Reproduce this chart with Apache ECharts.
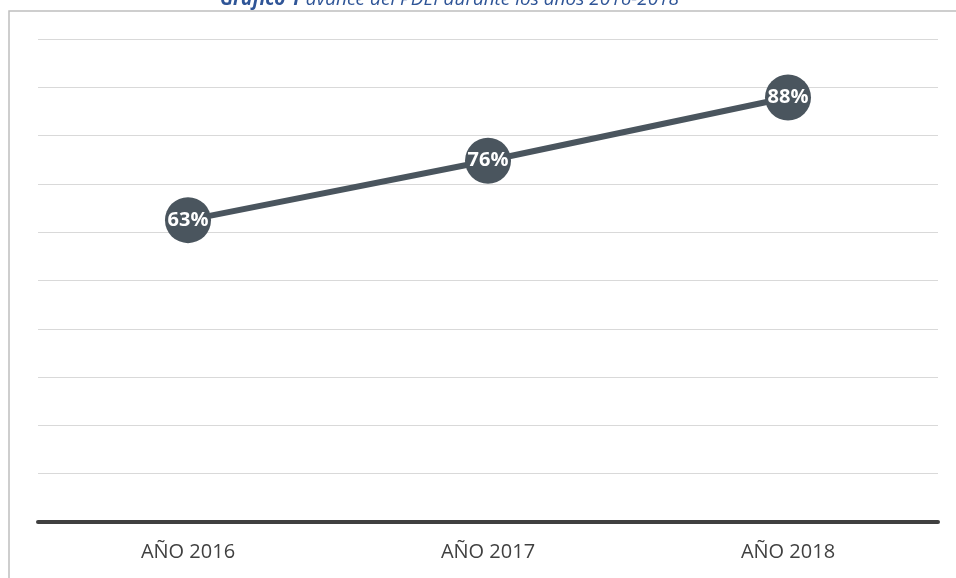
<!DOCTYPE html>
<html>
<head>
<meta charset="utf-8">
<script src="https://cdn.jsdelivr.net/npm/echarts@6/dist/echarts.min.js"></script>
<style>
html,body{margin:0;padding:0;background:#fff;}
#c{width:956px;height:578px;}
</style>
</head>
<body>
<div id="c"></div>
<script>
const categories = ["AÑO 2016", "AÑO 2017", "AÑO 2018"];
const values = [0.625, 0.748, 0.879];
const valueLabels = ["63%", "76%", "88%"];
const titleBold = "Gráfico 1";
const titleRest = " avance del PDEI durante los años 2016-2018";

const chart = echarts.init(document.getElementById('c'));
chart.setOption({
  animation: false,
  backgroundColor: '#fff',
  graphic: [
    {
      type: 'rect', z: 0, silent: true,
      shape: { x: 9, y: 11, width: 1000, height: 700 },
      style: { fill: 'transparent', stroke: '#bfbfbf', lineWidth: 1.5 }
    },
    {
      type: 'text', z: 10, left: 220, top: -10,
      style: {
        rich: {
          b: { fontFamily: 'Open Sans', fontStyle: 'italic', fontWeight: 'bold', fontSize: 19, fill: '#2f5597' },
          r: { fontFamily: 'Open Sans', fontStyle: 'italic', fontSize: 19, fill: '#2f5597' }
        },
        text: '{b|' + titleBold + '}{r|' + titleRest + '}'
      }
    }
  ],
  grid: { left: 38, right: 18, top: 39, bottom: 56 },
  xAxis: {
    type: 'category',
    data: categories,
    boundaryGap: true,
    axisLine: { lineStyle: { color: '#404040', width: 4 } },
    axisTick: { show: false },
    axisLabel: { color: '#404040', fontSize: 20, fontFamily: 'Open Sans', margin: 20 }
  },
  yAxis: {
    type: 'value', min: 0, max: 1, interval: 0.1,
    axisLine: { show: false },
    axisTick: { show: false },
    axisLabel: { show: false },
    splitLine: { lineStyle: { color: '#d9d9d9', width: 1 } }
  },
  series: [{
    type: 'line',
    data: values,
    symbol: 'circle',
    symbolSize: 46,
    lineStyle: { color: '#4a555e', width: 6 },
    itemStyle: { color: '#4a555e' },
    label: {
      show: true, position: 'inside',
      formatter: p => valueLabels[p.dataIndex],
      color: '#fff', fontSize: 20, fontWeight: 'bold', fontFamily: 'Open Sans'
    }
  }]
});
</script>
</body>
</html>
